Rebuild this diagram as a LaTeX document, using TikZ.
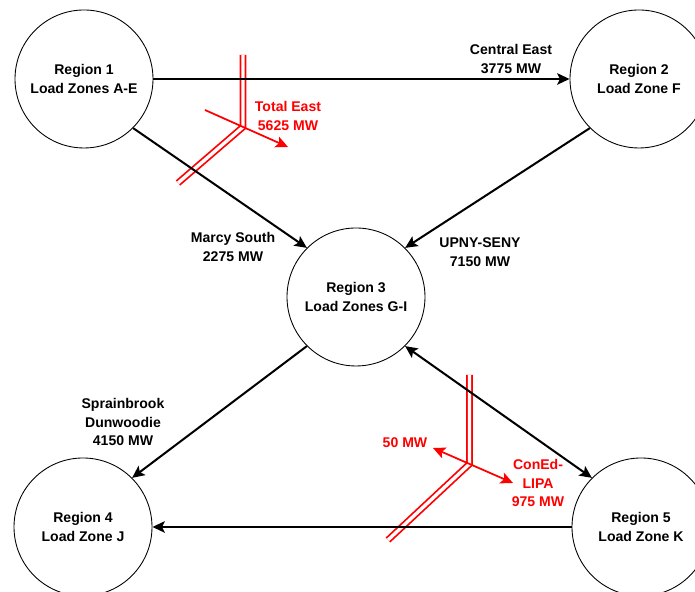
\documentclass[tikz,border=0pt]{standalone}
\usepackage{fontspec}
\setmainfont{Liberation Sans}
\usepackage{tikz}
\usetikzlibrary{arrows.meta}

\begin{document}
\begin{tikzpicture}
      [
      region/.style={circle,draw,line width=0.5pt,inner sep=0pt,minimum size=27.6mm,align=center},
      flow/.style={line width=1.15pt,-{Stealth[length=7pt,width=6.5pt,inset=1.5pt]}},
      cut/.style={draw=red,line width=1pt,double=white,double distance=1.9pt},
      redflow/.style={red,line width=1pt,-{Stealth[length=7pt,width=6.5pt,inset=1.5pt]}},
      lbl/.style={align=center,inner sep=0pt},
      every node/.style={font=\bfseries\fontsize{8}{10.5}\selectfont}
      ]
      \useasboundingbox (0,0) rectangle (13.9,11.84);
      \node (r1) at (1.68,10.26) [region] {Region 1\\Load Zones A-E};
      \node (r2) at (12.78,10.26) [region] {Region 2\\Load Zone F};
      \node (r3) at (7.12,5.90) [region] {Region 3\\Load Zones G-I};
      \node (r4) at (1.66,1.30) [region] {Region 4\\Load Zone J};
      \node (r5) at (12.82,1.30) [region] {Region 5\\Load Zone K};
      \node (ce) at (10.22,10.66) [lbl] {Central East\\3775 MW};
      \node (ms) at (4.66,6.90) [lbl] {Marcy South\\2275 MW};
      \node (us) at (9.60,6.80) [lbl] {UPNY-SENY\\7150 MW};
      \node (sd) at (2.46,3.40) [lbl] {Sprainbrook\\Dunwoodie\\4150 MW};
      \node (te) at (5.76,9.52) [lbl,text=red] {Total East\\5625 MW};
      \node (fifty) at (8.10,2.98) [lbl,text=red] {50 MW};
      \node (cl) at (10.76,2.18) [lbl,text=red] {ConEd-\\LIPA\\975 MW};
      % interface cuts
      \draw [cut] (4.86,10.74) -- (4.86,9.30) -- (3.56,8.18);
      \draw [cut] (9.39,4.34) -- (9.39,2.56) -- (7.76,1.04);
      % transfers
      \draw [flow] (r1.east) to (r2.west);
      \draw [flow] (r1.south east) to (r3.north west);
      \draw [flow] (r2.south west) to (r3.north east);
      \draw [flow] (r3.south west) to (r4.north east);
      \draw [flow, {Stealth[length=7pt,width=6.5pt,inset=1.5pt]}-{Stealth[length=7pt,width=6.5pt,inset=1.5pt]}] (r3.south east) to (r5.north west);
      \draw [flow] (r5.west) to (r4.east);
      \coordinate (teA) at (4.10,9.64);
      \coordinate (teB) at (5.76,8.90);
      \coordinate (clA) at (8.66,2.88);
      \coordinate (clB) at (10.26,2.18);
      \draw [redflow] (teA) to (teB);
      \draw [redflow, {Stealth[length=7pt,width=6.5pt,inset=1.5pt]}-{Stealth[length=7pt,width=6.5pt,inset=1.5pt]}] (clA) to (clB);
\end{tikzpicture}
\end{document}
